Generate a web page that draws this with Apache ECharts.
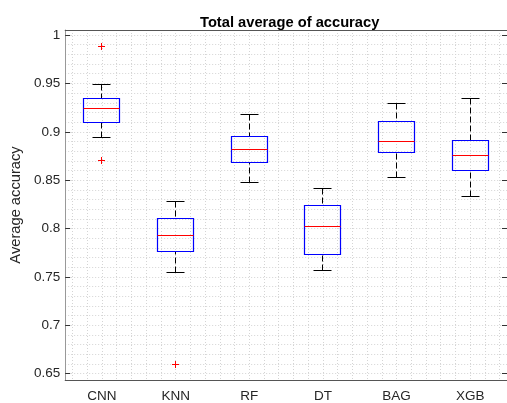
<!DOCTYPE html>
<html>
<head>
<meta charset="utf-8">
<script src="https://cdn.jsdelivr.net/npm/echarts@6/dist/echarts.min.js"></script>
<style>
  html, body { margin: 0; padding: 0; background: #fff; }
  #chart { width: 507px; height: 403px; }
</style>
</head>
<body>
<div id="chart"></div>
<script>
// Classifier names along the x axis
const categories = ['CNN', 'KNN', 'RF', 'DT', 'BAG', 'XGB'];

// Five-number summaries of the average accuracy per classifier
const lowerWhisker = [0.8945, 0.7541, 0.8473, 0.7568, 0.8528, 0.8336];
const q1           = [0.9092, 0.7764, 0.8681, 0.7729, 0.8791, 0.8597];
const median       = [0.9236, 0.7924, 0.8815, 0.8020, 0.8897, 0.8753];
const q3           = [0.9339, 0.8099, 0.8950, 0.8240, 0.9106, 0.8911];
const upperWhisker = [0.9486, 0.8284, 0.9182, 0.8418, 0.9294, 0.9349];

// Outliers (category, value)
const outlierCategory = ['CNN', 'CNN', 'KNN'];
const outlierValue    = [0.988, 0.870, 0.6597];

// Axis ticks
const yTicks = [0.65, 0.7, 0.75, 0.8, 0.85, 0.9, 0.95, 1];
const yMin = 0.6435, yMax = 1.0052;

// Minor grid positions (every 0.01 vertically, every 0.2 category widths horizontally)
const yGrid = [];
for (let k = 65; k <= 100; k++) yGrid.push(k / 100);
const xGrid = [];
for (let k = 3; k <= 32; k++) xGrid.push(Math.round(k * 0.2 * 10) / 10);

const boxData = categories.map((c, i) =>
  [i, lowerWhisker[i], q1[i], median[i], q3[i], upperWhisker[i]]);
const outlierData = outlierValue.map((v, i) =>
  [categories.indexOf(outlierCategory[i]), v]);

const crisp = v => Math.round(v - 0.5) + 0.5;

function renderBox(params, api) {
  const i = api.value(0);
  const band = api.size([1, 0])[0];
  const half = band * 0.25, capHalf = band * 0.125;
  const pt = k => api.coord([i, api.value(k)]);
  const cx = crisp(pt(3)[0]);
  const yLw = crisp(pt(1)[1]), yQ1 = crisp(pt(2)[1]), yMed = crisp(pt(3)[1]);
  const yQ3 = crisp(pt(4)[1]), yUw = crisp(pt(5)[1]);
  const x0 = crisp(cx - half), x1 = crisp(cx + half);
  const c0 = crisp(cx - capHalf), c1 = crisp(cx + capHalf);
  const dash = { stroke: '#000', lineWidth: 1, lineDash: [6, 3], fill: null };
  const solid = { stroke: '#000', lineWidth: 1, fill: null };
  return {
    type: 'group',
    children: [
      { type: 'line', shape: { x1: cx, y1: yUw, x2: cx, y2: yQ3 }, style: dash },
      { type: 'line', shape: { x1: cx, y1: yLw, x2: cx, y2: yQ1 }, style: dash },
      { type: 'line', shape: { x1: c0, y1: yUw, x2: c1, y2: yUw }, style: solid },
      { type: 'line', shape: { x1: c0, y1: yLw, x2: c1, y2: yLw }, style: solid },
      { type: 'rect', shape: { x: x0, y: yQ3, width: x1 - x0, height: yQ1 - yQ3 },
        style: { stroke: '#0000ff', lineWidth: 1.2, fill: null } },
      { type: 'line', shape: { x1: x0, y1: yMed, x2: x1, y2: yMed },
        style: { stroke: '#ff0000', lineWidth: 1, fill: null } }
    ]
  };
}

function renderPlus(params, api) {
  const p = api.coord([api.value(0), api.value(1)]);
  const x = crisp(p[0]), y = crisp(p[1]), r = 3.5;
  const st = { stroke: '#ff0000', lineWidth: 1, fill: null };
  return {
    type: 'group',
    children: [
      { type: 'line', shape: { x1: x - r, y1: y, x2: x + r, y2: y }, style: st },
      { type: 'line', shape: { x1: x, y1: y - r, x2: x, y2: y + r }, style: st }
    ]
  };
}

const textColor = '#262626';
const fontFamily = 'Liberation Sans, Arial, Helvetica, sans-serif';
const gridDots = { show: true, lineStyle: { color: '#d4d4d4', width: 1, type: [1, 2] } };

const chart = echarts.init(document.getElementById('chart'), null, { renderer: 'canvas' });
chart.setOption({
  animation: false,
  backgroundColor: '#fff',
  textStyle: { fontFamily },
  title: {
    text: 'Total average of accuracy',
    left: 195, top: 10,
    textStyle: { fontSize: 14.7, fontWeight: 'bold', color: '#000', fontFamily }
  },
  grid: { left: 64, top: 30, width: 446, height: 352, containLabel: false },
  xAxis: [
    {
      type: 'category', data: categories, position: 'bottom',
      axisLine: { lineStyle: { color: '#555', width: 1 } },
      axisTick: { inside: true, alignWithLabel: true, length: 5, lineStyle: { color: '#333' } },
      axisLabel: { color: textColor, fontSize: 13.5, margin: 9, fontFamily },
      splitLine: { show: false }
    },
    {
      type: 'category', data: categories, position: 'top',
      axisLine: { lineStyle: { color: '#555', width: 1 } },
      axisTick: { inside: true, alignWithLabel: true, length: 5, lineStyle: { color: '#333' } },
      axisLabel: { show: false },
      splitLine: { show: false }
    },
    {
      type: 'value', min: 0.5, max: 6.5, position: 'bottom',
      axisLine: { show: false },
      axisTick: { show: false, customValues: xGrid },
      axisLabel: { show: false, customValues: xGrid },
      splitLine: gridDots
    }
  ],
  yAxis: [
    {
      type: 'value', min: yMin, max: yMax, position: 'left',
      name: 'Average accuracy', nameLocation: 'middle', nameGap: 33, nameRotate: 90,
      nameTextStyle: { fontSize: 14.7, color: textColor, fontFamily },
      axisLine: { show: true, lineStyle: { color: '#999', width: 1 } },
      axisTick: { show: true, inside: true, length: 5, customValues: yTicks, lineStyle: { color: '#333' } },
      axisLabel: { color: textColor, fontSize: 13.5, margin: 5, customValues: yTicks, fontFamily },
      splitLine: { show: false }
    },
    {
      type: 'value', min: yMin, max: yMax, position: 'right',
      axisLine: { show: true, lineStyle: { color: '#555', width: 1 } },
      axisTick: { show: true, inside: true, length: 5, customValues: yTicks, lineStyle: { color: '#333' } },
      axisLabel: { show: false, customValues: yTicks },
      splitLine: { show: false }
    },
    {
      type: 'value', min: yMin, max: yMax, position: 'left',
      axisLine: { show: false },
      axisTick: { show: false, customValues: yGrid },
      axisLabel: { show: false, customValues: yGrid },
      splitLine: gridDots
    }
  ],
  series: [
    {
      type: 'custom', name: 'box', xAxisIndex: 0, yAxisIndex: 0,
      renderItem: renderBox, data: boxData, encode: { x: 0, y: [1, 2, 3, 4, 5] }, z: 5
    },
    {
      type: 'custom', name: 'outliers', xAxisIndex: 0, yAxisIndex: 0,
      renderItem: renderPlus, data: outlierData, encode: { x: 0, y: 1 }, z: 6
    }
  ]
});
</script>
</body>
</html>
